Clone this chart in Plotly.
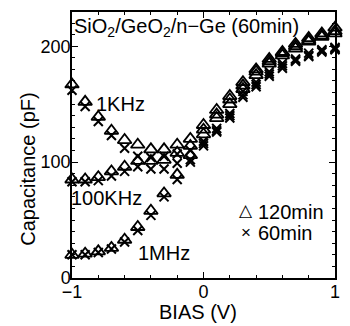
import plotly.graph_objects as go

bias = [-1.0, -0.9, -0.8, -0.7, -0.6, -0.5, -0.4, -0.3, -0.2, -0.1, 0.0,
        0.1, 0.2, 0.3, 0.4, 0.5, 0.6, 0.7, 0.8, 0.9, 1.0]

c_1khz_120 = [167, 152, 139, 127, 119, 115, 111, 111, 115, 120, 132,
              145, 157, 169, 180, 189, 195, 202, 207, 211, 216]
c_1khz_60 = [162, 148, 135, 123, 112, 105, 104, 105, 107, 110, 118,
             129, 142, 161, 169, 178, 185, 189, 194, 197, 199]
c_100khz_120 = [85, 85, 87, 92, 96, 101, 101, 102, 108, 114, 128,
                141, 154, 166, 178, 187, 194, 200, 205, 209, 213]
c_100khz_60 = [83, 83, 84, 88, 92, 96, 94, 94, 99, 102, 116,
               127, 140, 158, 167, 176, 183, 188, 192, 196, 198]
c_1mhz_120 = [20, 21, 23, 26, 33, 44, 58, 73, 89, 106, 124,
              138, 150, 163, 175, 185, 192, 198, 204, 208, 211]
c_1mhz_60 = [20, 20, 22, 25, 31, 41, 54, 70, 85, 100, 114,
             126, 138, 156, 165, 174, 181, 187, 191, 195, 197]

x_ticks = [-1, 0, 1]
y_ticks = [0, 100, 200]

FONT = "Liberation Sans, Arial, sans-serif"

fig = go.Figure()

tri = dict(symbol="triangle-up-open", size=12, color="black", line=dict(width=1.8, color="black"))
crs = dict(symbol="x-thin-open", size=9, color="black", line=dict(width=2, color="black"))

for ys in [c_1khz_120, c_100khz_120, c_1mhz_120]:
    fig.add_trace(go.Scatter(x=bias, y=ys, mode="markers", marker=tri,
                             showlegend=False, cliponaxis=False))
for ys in [c_1khz_60, c_100khz_60, c_1mhz_60]:
    fig.add_trace(go.Scatter(x=bias, y=ys, mode="markers", marker=crs,
                             showlegend=False, cliponaxis=False))

axis_common = dict(
    showline=True, linecolor="black", linewidth=1.5, mirror="allticks",
    ticks="inside", ticklen=6, tickwidth=1.3, tickcolor="black",
    showgrid=False, zeroline=False,
    tickfont=dict(family=FONT, size=18, color="black"),
)

fig.update_xaxes(
    range=[-1, 1], tickvals=x_ticks,
    minor=dict(dtick=0.2, ticks="inside", ticklen=3, tickwidth=1.2, tickcolor="black"),
    ticklabelstandoff=-3,
    **axis_common,
)
fig.update_yaxes(
    range=[0, 229.5], tickvals=y_ticks,
    minor=dict(dtick=10, ticks="inside", ticklen=3, tickwidth=1.2, tickcolor="black"),
    ticklabelstandoff=-4,
    **axis_common,
)

ann_font = dict(family=FONT, size=20, color="black")
annotations = [
    dict(x=0.0, y=0.995, xref="paper", yref="paper", xanchor="left", yanchor="top",
         text="SiO<sub>2</sub>/GeO<sub>2</sub>/n\u2212Ge (60min)", showarrow=False, font=ann_font),
    dict(x=-0.83, y=150, text="1KHz", xanchor="left", yanchor="middle", showarrow=False, font=ann_font),
    dict(x=-1.0, y=69, xshift=-3, text="100KHz", xanchor="left", yanchor="middle", showarrow=False, font=ann_font),
    dict(x=-0.51, y=22, text="1MHz", xanchor="left", yanchor="middle", showarrow=False, font=ann_font),
    dict(x=0.325, y=58, text="\u25b3", xanchor="center", yanchor="middle", showarrow=False,
         font=dict(family=FONT, size=17, color="black")),
    dict(x=0.325, y=39.5, text="\u00d7", xanchor="center", yanchor="middle", showarrow=False,
         font=dict(family=FONT, size=17, color="black")),
    dict(x=0.40, y=57.2, text="120min", xanchor="left", yanchor="middle", showarrow=False, font=ann_font),
    dict(x=0.40, y=39.2, text="60min", xanchor="left", yanchor="middle", showarrow=False, font=ann_font),
    dict(x=-0.168, y=0.41, xref="paper", yref="paper", text="Capacitance (pF)", textangle=-90,
         xanchor="center", yanchor="middle", showarrow=False, font=ann_font),
    dict(x=0.48, y=-0.128, xref="paper", yref="paper", text="BIAS (V)",
         xanchor="center", yanchor="middle", showarrow=False, font=ann_font),
]
fig.update_layout(
    width=350, height=326,
    margin=dict(l=72, r=11, t=10, b=48),
    paper_bgcolor="white", plot_bgcolor="white",
    annotations=annotations,
    font=dict(family=FONT, color="black"),
)

fig.write_html("out.html")
